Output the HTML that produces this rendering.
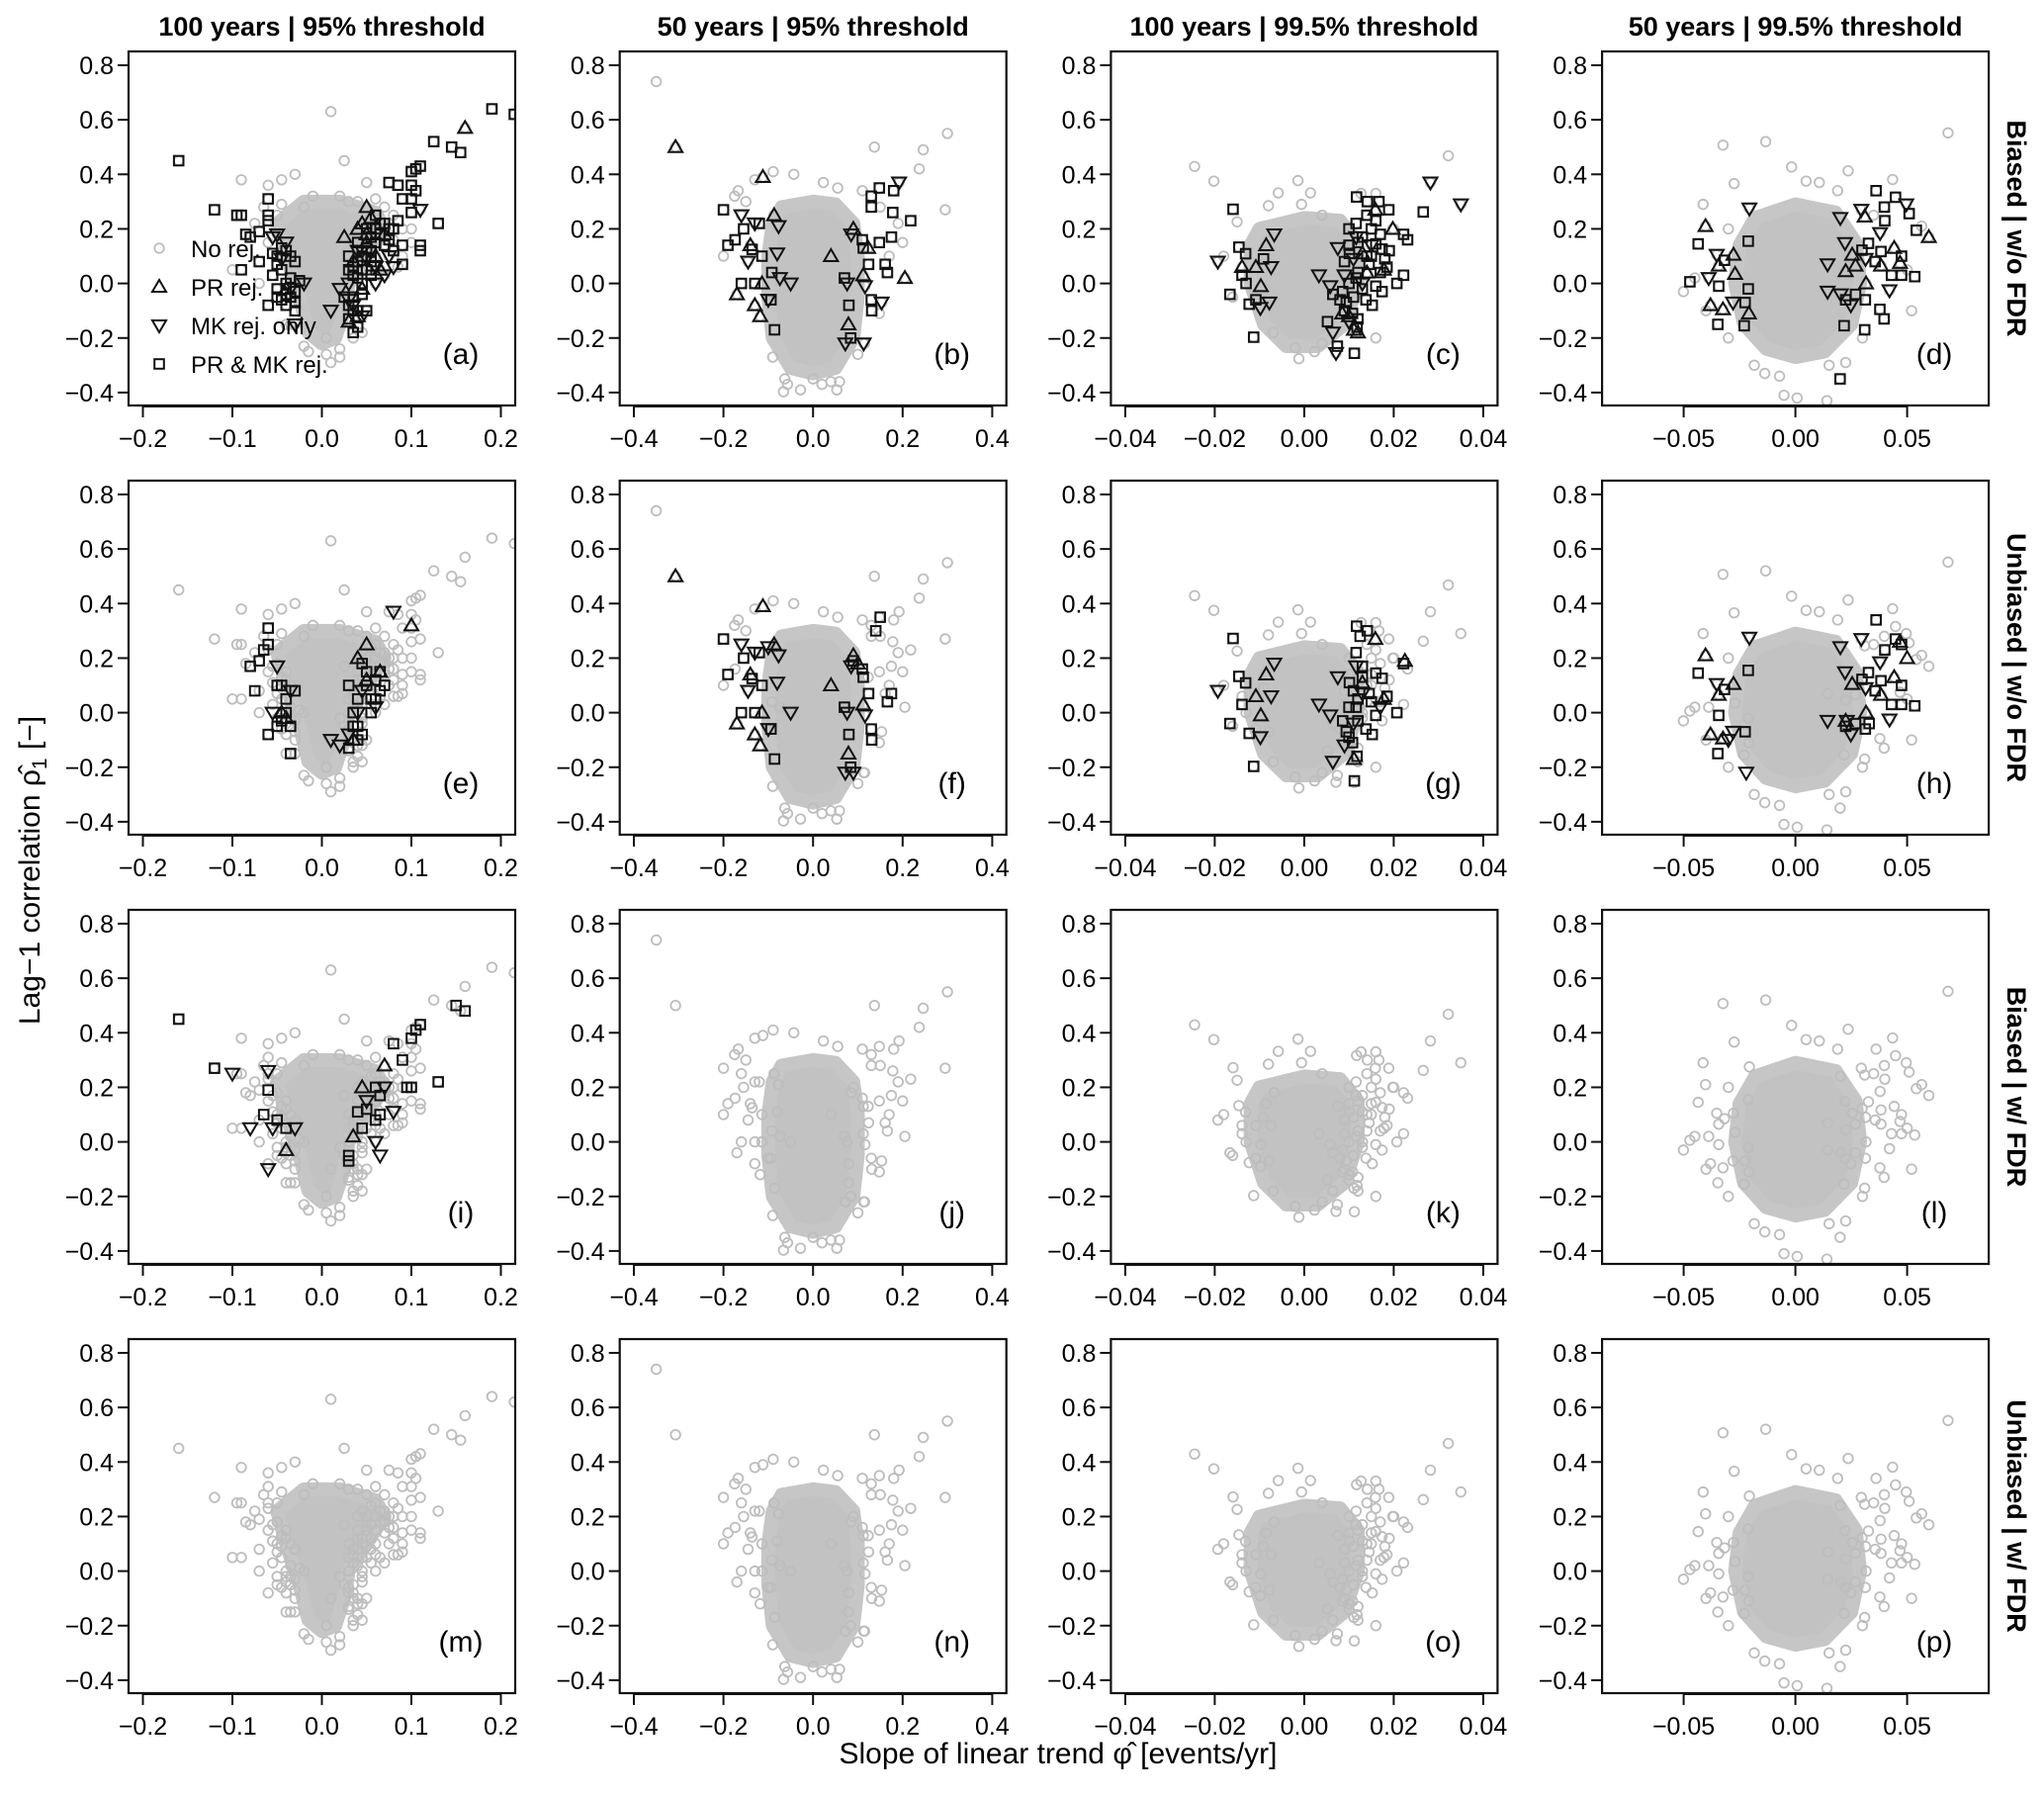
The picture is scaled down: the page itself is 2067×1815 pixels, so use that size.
<!DOCTYPE html>
<html><head><meta charset="utf-8">
<style>
html,body{margin:0;padding:0;background:#fff;}
svg{display:block;font-family:"Liberation Sans",Arial,sans-serif;}
</style></head>
<body>
<svg id="fig" width="2067" height="1815" viewBox="0 0 2067 1815" xmlns="http://www.w3.org/2000/svg">
<text transform="translate(40,880) rotate(-90)" text-anchor="middle" font-size="30">Lag−1 correlation ρ̂<tspan font-size="21" dy="7">1</tspan><tspan dy="-7"> [−]</tspan></text>
<text x="1070" y="1783" text-anchor="middle" font-size="30">Slope of linear trend φ̂ [events/yr]</text>
</svg>
<script>
// ---- column A (100 years | 95%) ----
const greyA=[[0.01,0.63],[0.025,0.45],[-0.09,0.38],[-0.06,0.36],[-0.045,0.38],[-0.03,0.40],[0.05,0.37],[0.06,0.31],[0.02,0.32],[-0.01,0.32],[-0.065,0.28],[-0.045,0.29],[-0.02,-0.23],[-0.015,-0.25],[0.005,-0.26],[0.02,-0.24],[0.01,-0.29],[0.005,-0.2],[0.09,0.1],[0.085,0.06],[-0.1,0.05],[-0.075,0.22],[0.03,0.3],[-0.02,0.28],[0.04,0.3],[0.08,0.25],[-0.035,-0.15],[0.035,-0.2],[-0.07,0.0],[0.1,0.2],[-0.05,0.25],[0.07,0.28],[-0.04,-0.15],[0.045,-0.18],[0.08,0.16],[0.09,0.2],[0.1,0.15],[-0.06,0.15],[0.02,-0.27]];
const hullA=[[-0.05,0.22],[-0.02,0.3],[0.02,0.3],[0.06,0.26],[0.07,0.2],[0.05,0.1],[0.03,0.0],[0.025,-0.1],[0.015,-0.2],[0.0,-0.22],[-0.015,-0.18],[-0.025,-0.05],[-0.04,0.1]];
const aSq=[[-0.16,0.45],[-0.12,0.27],[-0.095,0.25],[-0.09,0.25],[0.19,0.64],[0.215,0.62],[0.125,0.52],[0.145,0.5],[0.155,0.48],[0.11,0.43],[0.105,0.42],[0.1,0.41],[0.075,0.37],[0.085,0.36],[0.1,0.36],[0.105,0.34],[0.09,0.31],[0.1,0.31],[0.13,0.22],[0.1,0.26],[-0.06,0.31],[-0.06,0.25],[-0.06,0.23],[-0.085,0.18],[-0.07,0.19],[-0.08,0.17],[-0.07,0.08],[-0.09,0.05],[-0.06,-0.08],[-0.03,-0.1],[0.09,0.07],[0.11,0.14],[0.11,0.12],[0.09,0.14],[0.04,-0.16],[0.035,-0.18],[0.05,-0.1],[-0.025,0.01],[-0.05,0.1],[-0.045,0.05],[-0.04,0.0],[-0.035,-0.05],[-0.05,-0.02],[-0.04,0.12],[-0.03,0.08],[-0.045,-0.06],[-0.055,0.03],[0.03,0.1],[0.04,0.15],[0.045,0.05],[0.035,-0.05],[0.05,0.2],[0.06,0.25],[0.055,0.12],[0.065,0.18],[0.07,0.22],[0.04,-0.1],[0.03,-0.13],[0.075,0.2],[0.08,0.12],[0.045,0.0],[0.055,0.08],[0.035,0.03],[0.025,-0.05],[0.03,-0.08],[0.035,0.06],[0.04,0.08],[0.045,0.1],[0.05,0.05],[0.05,0.13],[0.055,0.17],[0.06,0.15],[0.06,0.2],[0.065,0.22],[0.07,0.14],[0.075,0.16],[0.08,0.2],[0.085,0.23],[0.04,0.02],[0.045,-0.04],[0.035,-0.1],[0.03,0.05],[0.055,0.03],[-0.05,0.07],[-0.045,0.13],[-0.04,-0.04],[-0.035,0.02],[-0.03,-0.03],[-0.05,-0.05],[-0.055,0.11],[-0.035,0.1],[-0.04,-0.08],[-0.03,-0.07]];
const aUp=[[0.16,0.57],[0.05,0.28],[0.025,0.17],[0.045,0.22],[0.04,-0.12],[0.065,0.05],[0.04,0.2],[0.05,0.15],[0.06,0.1],[0.03,-0.14],[-0.04,-0.02],[0.07,0.18],[0.05,0.18],[0.055,0.24],[0.035,0.08],[0.045,-0.02]];
const aDn=[[0.11,0.27],[-0.05,0.18],[-0.03,-0.15],[0.01,-0.1],[0.02,-0.02],[0.07,0.03],[-0.04,0.15],[-0.055,0.17],[-0.02,0.0],[0.045,0.12],[0.06,0.0],[0.035,-0.08],[0.03,0.0],[0.075,0.1],[0.08,0.06],[0.04,0.12],[0.05,0.09],[0.06,0.06],[0.03,-0.06],[0.045,-0.12],[-0.045,0.09],[-0.035,-0.02]];
const eSq=[[-0.06,0.31],[-0.06,0.25],[-0.065,0.23],[-0.07,0.19],[-0.08,0.17],[-0.075,0.08],[-0.05,0.1],[-0.04,0.05],[-0.035,-0.05],[-0.045,-0.03],[-0.035,-0.15],[-0.06,-0.08],[-0.04,0.0],[-0.03,0.08],[0.03,0.1],[0.04,0.05],[0.035,-0.05],[0.05,0.15],[0.06,0.12],[0.065,0.08],[0.04,-0.1],[0.03,-0.13],[0.055,0.0],[0.045,0.18],[0.07,0.1],[0.06,0.05],[0.04,-0.05],[0.035,0.0],[0.05,0.1],[0.045,-0.08],[-0.045,0.1],[-0.05,-0.05],[0.065,0.15],[0.055,0.05]];
const eUp=[[0.1,0.32],[0.05,0.25],[0.04,0.2],[-0.045,0.0],[0.035,-0.1],[0.065,0.15],[0.05,0.12],[-0.04,-0.02]];
const eDn=[[0.08,0.37],[-0.05,0.17],[-0.035,0.08],[0.01,-0.1],[0.02,-0.12],[0.045,0.08],[0.06,0.02],[-0.055,0.0],[0.03,-0.08],[0.04,0.0]];
const iSq=[[-0.16,0.45],[-0.12,0.27],[0.15,0.5],[0.16,0.48],[0.11,0.43],[0.105,0.41],[0.1,0.38],[0.08,0.36],[0.09,0.3],[0.13,0.22],[0.095,0.2],[0.1,0.2],[-0.06,0.19],[-0.065,0.1],[-0.05,0.08],[-0.04,0.05],[0.04,0.11],[0.05,0.12],[0.045,0.05],[0.06,0.08],[0.065,0.1],[0.03,-0.05],[0.03,-0.07],[0.06,0.2],[0.065,0.17]];
const iUp=[[0.07,0.28],[-0.04,-0.03],[0.035,0.02],[0.045,0.2]];
const iDn=[[-0.1,0.25],[-0.06,0.26],[-0.08,0.05],[-0.06,-0.1],[-0.055,0.05],[-0.03,0.05],[0.06,0.0],[0.065,-0.05],[0.05,0.15],[0.07,0.2],[0.08,0.11]];
// ---- column B (50 years | 95%) ----
const greyB=[[-0.35,0.74],[0.30,0.55],[0.137,0.50],[0.246,0.49],[0.237,0.42],[0.295,0.27],[-0.089,0.41],[-0.043,0.40],[-0.13,0.38],[-0.167,0.34],[-0.175,0.32],[0.023,0.37],[0.055,0.35],[0.11,0.34],[0.2,0.15],[0.19,0.22],[-0.063,-0.35],[-0.057,-0.37],[-0.066,-0.397],[-0.028,-0.39],[0.053,-0.39],[0.02,-0.37],[0.04,-0.36],[0.059,-0.36],[0.0,-0.35],[-0.09,-0.27],[0.1,-0.26],[0.115,-0.22],[0.148,-0.11],[-0.2,0.1],[0.17,0.1],[-0.15,0.3],[0.15,0.28]];
const hullB=[[-0.07,0.28],[0.0,0.3],[0.05,0.29],[0.09,0.22],[0.1,0.1],[0.1,-0.05],[0.09,-0.2],[0.05,-0.31],[0.0,-0.33],[-0.05,-0.31],[-0.09,-0.2],[-0.1,-0.05],[-0.1,0.1],[-0.09,0.22]];
const bSq=[[-0.2,0.27],[-0.155,0.2],[-0.19,0.14],[-0.174,0.16],[-0.12,0.22],[-0.136,0.125],[-0.114,0.1],[-0.092,0.04],[-0.16,0.0],[-0.13,0.0],[-0.094,-0.06],[-0.086,-0.17],[0.13,0.32],[0.148,0.35],[0.18,0.34],[0.13,0.28],[0.178,0.26],[0.218,0.23],[0.175,0.17],[0.148,0.15],[0.11,0.16],[0.112,0.13],[0.124,0.07],[0.161,0.07],[0.166,0.04],[0.07,0.02],[0.08,-0.08],[0.13,-0.06],[0.131,-0.1],[0.084,-0.2]];
const bUp=[[-0.307,0.5],[-0.112,0.39],[-0.087,0.25],[0.09,0.2],[0.123,0.13],[0.205,0.02],[0.04,0.1],[-0.114,0.0],[-0.17,-0.04],[-0.13,-0.08],[-0.118,-0.12],[0.079,-0.15],[0.112,0.03],[-0.14,0.14]];
const bDn=[[-0.16,0.25],[-0.077,0.21],[-0.145,0.08],[-0.08,0.11],[-0.074,0.02],[-0.05,0.0],[-0.1,-0.06],[0.076,0.0],[0.116,-0.01],[0.153,-0.07],[0.192,0.37],[0.072,-0.22],[0.113,-0.22],[0.085,0.18],[-0.13,0.22]];
const fSq=[[-0.2,0.27],[-0.155,0.2],[-0.19,0.14],[-0.12,0.22],[-0.136,0.125],[-0.114,0.1],[-0.16,0.0],[-0.13,0.0],[-0.094,-0.06],[-0.086,-0.17],[0.15,0.35],[0.14,0.3],[0.11,0.16],[0.112,0.13],[0.124,0.07],[0.166,0.04],[0.07,0.02],[0.08,-0.08],[0.13,-0.06],[0.131,-0.1],[0.084,-0.2],[0.09,0.19],[0.175,0.07]];
const fUp=[[-0.307,0.5],[-0.112,0.39],[-0.087,0.25],[0.09,0.21],[0.04,0.1],[-0.114,0.0],[-0.17,-0.04],[-0.13,-0.08],[-0.118,-0.12],[0.079,-0.15],[0.112,0.03],[-0.14,0.14],[0.1,0.18]];
const fDn=[[-0.16,0.25],[-0.077,0.21],[-0.145,0.08],[-0.08,0.11],[-0.05,0.0],[-0.1,-0.06],[0.076,0.0],[0.116,-0.01],[0.072,-0.22],[0.09,-0.22],[-0.13,0.22],[-0.1,0.24],[0.085,0.17]];
// ---- column C (100 years | 99.5%) ----
const greyC=[[-0.0245,0.429],[-0.0202,0.375],[0.0322,0.468],[-0.0014,0.377],[-0.0058,0.332],[0.0014,0.332],[-0.015,0.226],[-0.0069,-0.18],[-0.0012,-0.276],[-0.002,-0.236],[0.0023,-0.25],[-0.008,0.285],[-0.0006,0.29],[0.016,0.33],[0.0127,0.33],[-0.018,0.1],[-0.016,-0.05],[0.02,0.2],[0.004,0.25],[0.016,-0.2],[0.004,-0.22]];
const hullC=[[-0.01,0.2],[0.0,0.24],[0.008,0.23],[0.012,0.15],[0.012,0.0],[0.009,-0.15],[0.003,-0.23],[-0.004,-0.23],[-0.009,-0.15],[-0.012,0.0],[-0.012,0.14]];
const cSq=[[-0.0159,0.272],[-0.0146,0.133],[-0.0131,0.109],[-0.0091,0.09],[-0.0139,0.03],[-0.013,0.0],[-0.0166,-0.04],[-0.0123,-0.076],[-0.0108,-0.06],[-0.0113,-0.197],[0.0117,0.317],[0.0141,0.3],[0.0167,0.3],[0.0189,0.27],[0.0266,0.262],[0.0222,0.18],[0.0231,0.16],[0.0174,0.126],[0.0185,0.06],[0.0222,0.03],[0.0207,0.0],[0.0174,-0.03],[0.0152,-0.08],[0.0052,-0.14],[0.0118,-0.16],[0.0112,-0.256],[0.0074,-0.23],[0.0116,0.22],[0.013,0.17],[0.016,0.145],[0.0101,0.11],[0.0145,0.07],[0.0116,0.02],[0.0086,-0.03],[0.0064,-0.04],[0.0138,-0.06],[0.0108,-0.11],[0.0094,-0.07],[0.016,-0.01],[0.01,0.2],[0.012,0.15],[0.014,0.1],[0.012,0.04],[0.01,0.0],[0.013,-0.02],[0.011,-0.05],[0.009,-0.1],[0.012,-0.13],[0.015,0.2],[0.017,0.18],[0.015,0.1],[0.018,0.09],[0.019,0.12],[0.017,0.04],[0.009,0.08],[0.01,0.14],[0.008,-0.06],[0.014,0.25],[0.016,0.23]];
const cUp=[[-0.0085,0.14],[-0.0108,0.06],[-0.0139,0.06],[-0.0097,-0.01],[0.0159,0.27],[0.0198,0.2],[0.0111,-0.17],[0.0085,-0.11],[0.013,0.11],[0.0178,0.05],[0.01,-0.12],[0.014,0.04],[0.012,-0.18]];
const cDn=[[-0.0067,0.18],[-0.0193,0.08],[-0.0074,0.06],[-0.0078,-0.07],[-0.0098,-0.09],[0.0033,0.03],[0.0075,0.13],[0.0058,-0.01],[0.0064,-0.18],[0.0071,-0.255],[0.0282,0.37],[0.035,0.29],[0.0116,0.17],[0.009,0.03],[0.011,0.09],[0.013,0.0],[0.01,-0.14],[0.015,0.14]];
const gSq=[[-0.0159,0.272],[-0.0146,0.133],[-0.0131,0.109],[-0.0139,0.03],[-0.0166,-0.04],[-0.0123,-0.076],[-0.0113,-0.197],[0.0117,0.317],[0.0141,0.3],[0.0125,0.28],[0.0222,0.18],[0.0174,0.126],[0.0185,0.06],[0.0207,0.0],[0.0152,-0.08],[0.0118,-0.16],[0.0112,-0.25],[0.0116,0.22],[0.013,0.17],[0.016,0.145],[0.0101,0.11],[0.0145,0.07],[0.0116,0.02],[0.0086,-0.03],[0.0138,-0.06],[0.0108,-0.11],[0.0094,-0.07],[0.016,-0.01],[0.012,0.05],[0.01,-0.09],[0.011,0.08],[0.013,0.13],[0.015,0.04],[0.01,0.02],[0.012,-0.03]];
const gUp=[[-0.0085,0.14],[-0.0108,0.06],[-0.0097,-0.01],[0.0159,0.27],[0.0225,0.19],[0.0111,-0.17],[0.013,0.11],[0.0178,0.05]];
const gDn=[[-0.0067,0.18],[-0.0193,0.08],[-0.0074,0.06],[-0.0098,-0.09],[0.0033,0.03],[0.0075,0.13],[0.0058,-0.01],[0.0064,-0.18],[0.0116,0.17],[0.017,0.02],[0.009,-0.12],[0.011,-0.04],[0.013,0.07]];
// ---- column D (50 years | 99.5%) ----
const greyD=[[0.0683,0.552],[-0.0324,0.507],[-0.0133,0.52],[-0.0017,0.427],[0.0236,0.413],[0.0435,0.381],[-0.0274,0.366],[-0.0413,0.29],[-0.0501,-0.03],[-0.0184,-0.30],[-0.0137,-0.33],[-0.0051,-0.41],[0.0008,-0.42],[0.0141,-0.43],[-0.0071,-0.34],[0.0151,-0.30],[0.0225,-0.29],[0.0048,0.375],[0.0107,0.37],[0.0189,0.34],[0.0565,0.21],[-0.045,0.02],[-0.04,-0.1],[0.05,0.05],[0.052,-0.1],[-0.03,0.2],[0.035,0.25],[-0.03,-0.2],[0.03,-0.2]];
const hullD=[[-0.018,0.24],[0.0,0.29],[0.018,0.26],[0.027,0.15],[0.029,0.0],[0.025,-0.15],[0.013,-0.25],[0.0,-0.27],[-0.013,-0.24],[-0.023,-0.15],[-0.027,0.0],[-0.025,0.14]];
const dSq=[[-0.0435,0.145],[-0.0317,0.085],[-0.0472,0.006],[-0.0343,-0.01],[-0.0211,0.155],[-0.0211,-0.02],[-0.0225,-0.07],[-0.0347,-0.15],[-0.0229,-0.155],[0.0361,0.34],[0.0448,0.316],[0.0398,0.28],[0.0509,0.256],[0.04,0.23],[0.0541,0.195],[0.0327,0.147],[0.0383,0.117],[0.0475,0.1],[0.0475,0.03],[0.0534,0.025],[0.043,0.03],[0.0357,0.08],[0.0298,0.122],[0.0313,-0.06],[0.0378,-0.095],[0.0397,-0.13],[0.0218,-0.155],[0.031,-0.17],[0.02,-0.35],[0.0225,-0.06],[0.0269,-0.04]];
const dUp=[[-0.0402,0.21],[-0.0277,0.105],[-0.0343,0.065],[-0.027,0.035],[-0.038,-0.08],[-0.0324,-0.095],[-0.0208,-0.11],[0.031,0.245],[0.0597,0.17],[0.0254,0.105],[0.0269,0.065],[0.0225,0.045],[0.0468,0.075],[0.0383,0.065],[0.0442,0.13],[0.0316,0.0]];
const dDn=[[-0.0206,0.275],[-0.0352,0.105],[-0.0388,0.02],[-0.0279,-0.07],[0.0201,0.24],[0.0295,0.27],[0.0496,0.29],[0.0379,0.185],[0.0222,0.148],[0.0144,0.07],[0.0144,-0.03],[0.0203,-0.04],[0.0248,-0.08],[0.0421,-0.025],[0.0314,0.09]];
const hSq=[[-0.0435,0.145],[-0.0317,0.085],[-0.0343,-0.01],[-0.0211,0.155],[-0.0225,-0.07],[-0.0347,-0.15],[0.0361,0.34],[0.0448,0.27],[0.0475,0.25],[0.04,0.23],[0.0327,0.147],[0.0383,0.117],[0.0475,0.1],[0.0475,0.03],[0.0534,0.025],[0.043,0.03],[0.0357,0.08],[0.0298,0.122],[0.0313,-0.06],[0.0269,-0.04],[0.0225,-0.05],[0.033,-0.04]];
const hUp=[[-0.0402,0.21],[-0.0277,0.105],[-0.0343,0.065],[-0.038,-0.08],[-0.0324,-0.095],[0.0442,0.13],[0.0468,0.26],[0.0383,0.065],[0.0316,0.0],[0.0254,0.105],[0.0225,-0.03],[0.05,0.2]];
const hDn=[[-0.0206,0.275],[-0.0352,0.105],[-0.0279,-0.07],[-0.03,-0.1],[-0.022,-0.22],[0.0201,0.24],[0.0295,0.27],[0.0379,0.185],[0.0222,0.148],[0.0144,-0.03],[0.0248,-0.08],[0.0421,-0.025],[0.0314,0.09],[0.023,-0.03]];
// ---- axes / labels ----
const colTitles=["100 years | 95% threshold","50 years | 95% threshold","100 years | 99.5% threshold","50 years | 99.5% threshold"];
const rowTitles=["Biased | w/o FDR","Unbiased | w/o FDR","Biased | w/ FDR","Unbiased | w/ FDR"];
const xTickVals=[[-0.2,-0.1,0,0.1,0.2],[-0.4,-0.2,0,0.2,0.4],[-0.04,-0.02,0,0.02,0.04],[-0.05,0,0.05]];
const xTickDigits=[1,1,2,2];
const yTickVals=[0.8,0.6,0.4,0.2,0,-0.2,-0.4];
const letters="abcdefghijklmnop";

const NS="http://www.w3.org/2000/svg";
const svg=document.getElementById('fig');
const BOXW=391,BOXH=358;
const ppu=[905,453,4525,2260];
const greys=[greyA,greyB,greyC,greyD];
const hulls=[hullA,hullB,hullC,hullD];
const marks=[
 [[aSq,aUp,aDn],[bSq,bUp,bDn],[cSq,cUp,cDn],[dSq,dUp,dDn]],
 [[eSq,eUp,eDn],[fSq,fUp,fDn],[gSq,gUp,gDn],[hSq,hUp,hDn]],
 [[iSq,iUp,iDn],null,null,null],
 [null,null,null,null]];
function el(tag,attrs,parent){const e=document.createElementNS(NS,tag);for(const k in attrs)e.setAttribute(k,attrs[k]);(parent||svg).appendChild(e);return e;}
function fmt(v,d){const s=Math.abs(v).toFixed(d);return (v<0?"−":"")+s;}

for(let c=0;c<4;c++){
  const bx=130+c*496.7;
  const t=el('text',{x:bx+BOXW/2,y:36,'text-anchor':'middle','font-size':27,'font-weight':'bold'});
  
  
  t.textContent=colTitles[c];
}
for(let r=0;r<4;r++){
  const cy=52+r*434+BOXH/2;
  const t=el('text',{transform:`translate(2030,${cy}) rotate(90)`,'text-anchor':'middle','font-size':27,'font-weight':'bold'});
  
  
  t.textContent=rowTitles[r];
}

for(let r=0;r<4;r++){
 for(let c=0;c<4;c++){
  const bx=130+c*496.7, by=52+r*434;
  const X=v=>bx+195.5+v*ppu[c];
  const Y=v=>by+234.6-v*275.8;
  const g=el('g',{});
  
  
  const cid='clip'+r+c;
  const cp=el('clipPath',{id:cid},g);
  el('rect',{x:bx,y:by,width:BOXW,height:BOXH},cp);
  const pg=el('g',{'clip-path':`url(#${cid})`},g);
  const poly=el('polygon',{points:hulls[c].map(p=>X(p[0])+','+Y(p[1])).join(' '),fill:'#c2c2c2',stroke:'#c6c6c6','stroke-width':14,'stroke-linejoin':'round'},pg);
  
  
  const allGrey=greys[c].concat(marks[0][c][0],marks[0][c][1],marks[0][c][2]);
  allGrey.forEach(p=>{
    const ci=el('circle',{cx:X(p[0]),cy:Y(p[1]),r:4.8,fill:'none',stroke:'#bdbdbd','stroke-width':1.8},pg);
    
    
  });
  const m=marks[r][c];
  if(m){
    m[0].forEach(p=>{
      const s=el('rect',{x:X(p[0])-4.8,y:Y(p[1])-4.8,width:9.6,height:9.6,fill:'none',stroke:'#111','stroke-width':2},pg);
      
      
    });
    m[1].forEach(p=>{
      const x=X(p[0]),y=Y(p[1]);
      const s=el('polygon',{points:`${x},${y-7} ${x-7},${y+5} ${x+7},${y+5}`,fill:'none',stroke:'#111','stroke-width':2},pg);
      
      
    });
    m[2].forEach(p=>{
      const x=X(p[0]),y=Y(p[1]);
      const s=el('polygon',{points:`${x},${y+7} ${x-7},${y-5} ${x+7},${y-5}`,fill:'none',stroke:'#111','stroke-width':2},pg);
      
      
    });
  }
  const box=el('rect',{x:bx,y:by,width:BOXW,height:BOXH,fill:'none',stroke:'#111','stroke-width':2.2},g);
  
  
  yTickVals.forEach(v=>{
    el('line',{x1:bx-11,x2:bx,y1:Y(v),y2:Y(v),stroke:'#111','stroke-width':2},g);
    const t=el('text',{x:bx-15,y:Y(v)+9,'text-anchor':'end','font-size':25},g);
    
    
    t.textContent=fmt(v,1);
  });
  const xt=xTickVals[c];
  el('line',{x1:X(xt[0]),x2:X(xt[xt.length-1]),y1:by+BOXH+1,y2:by+BOXH+1,stroke:'#111','stroke-width':2},g);
  xt.forEach(v=>{
    el('line',{x1:X(v),x2:X(v),y1:by+BOXH,y2:by+BOXH+12,stroke:'#111','stroke-width':2},g);
    const t=el('text',{x:X(v),y:by+BOXH+42,'text-anchor':'middle','font-size':25},g);
    
    
    t.textContent=fmt(v,xTickDigits[c]);
  });
  const lt=el('text',{x:bx+BOXW-55,y:by+BOXH-42,'text-anchor':'middle','font-size':30},g);
  
  
  lt.textContent='('+letters[r*4+c]+')';
 }
}
const lg=el('g',{});


const legLabels=["No rej.","PR rej.","MK rej. only","PR & MK rej."];
legLabels.forEach((lab,i)=>{
  const x=161,y=251+i*39;
  let s;
  if(i===0) s=el('circle',{cx:x,cy:y,r:4.8,fill:'none',stroke:'#bdbdbd','stroke-width':1.8},lg);
  else if(i===1) s=el('polygon',{points:`${x},${y-7} ${x-7},${y+5} ${x+7},${y+5}`,fill:'none',stroke:'#111','stroke-width':2},lg);
  else if(i===2) s=el('polygon',{points:`${x},${y+7} ${x-7},${y-5} ${x+7},${y-5}`,fill:'none',stroke:'#111','stroke-width':2},lg);
  else s=el('rect',{x:x-4.8,y:y-4.8,width:9.6,height:9.6,fill:'none',stroke:'#111','stroke-width':2},lg);
  
  
  const t=el('text',{x:193,y:y+9,'font-size':24},lg);
  
  
  t.textContent=lab;
});
</script>
</body></html>
